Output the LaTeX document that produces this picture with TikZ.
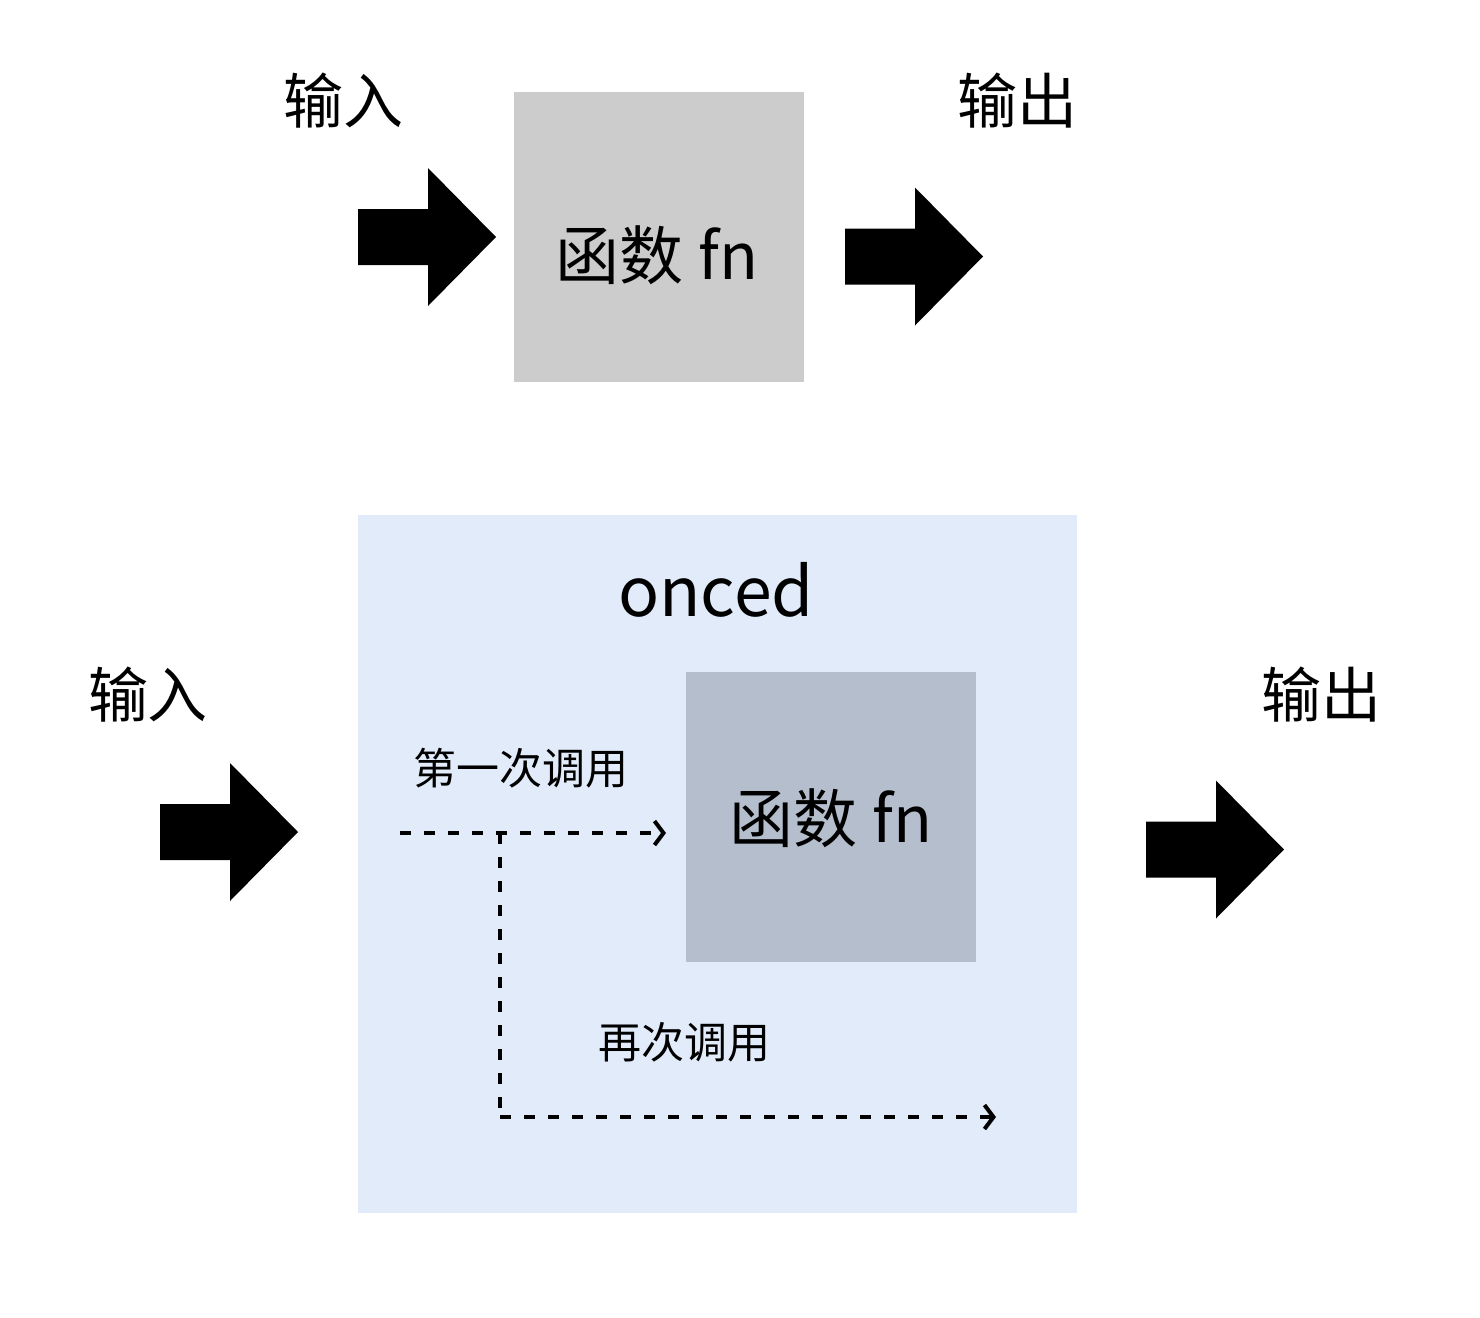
\documentclass[tikz,border=0pt]{standalone}
\usepackage{fontspec}
\setmainfont{Noto Sans CJK SC}
\usetikzlibrary{arrows.meta}
\definecolor{topgray}{HTML}{CCCCCC}
\definecolor{oncedbg}{HTML}{E1EBF9}
\definecolor{innergray}{HTML}{B5BECC}
\tikzset{
  bigtxt/.style={font=\fontsize{30}{34}\selectfont, inner sep=0pt},
  midtxt/.style={font=\fontsize{21.5}{25}\selectfont, inner sep=0pt},
  oncedtxt/.style={font=\fontsize{34}{38}\selectfont, inner sep=0pt},
  fnbox/.style={minimum width=145pt, minimum height=145pt, inner sep=0pt},
  fntxt/.style={font=\fontsize{32}{36}\selectfont, inner sep=0pt},
  flow/.style={dashed, dash pattern=on 5.5pt off 6.5pt, line width=2pt, -{Straight Barb[length=4.5pt,width=12pt,line width=2pt]}},
  flowplain/.style={dashed, dash pattern=on 5.5pt off 6.5pt, line width=2pt},
  blockarrow/.pic={\fill[black] (0,-28) -- (70,-28) -- (70,-69) -- (138,0) -- (70,69) -- (70,28) -- (0,28) -- cycle;}
}
\begin{document}
\begin{tikzpicture}[x=0.5pt,y=-0.5pt]
\useasboundingbox (0,0) rectangle (1480,1318);
\fill[white] (0,0) rectangle (1480,1318);
% top part
\node[bigtxt] (in1) at (343,101) {输入};
\node[bigtxt] (out1) at (1017,101) {输出};
\pic at (358,237) {blockarrow};
\node[fnbox, fill=topgray] (fn1) at (659,236.5) {};
\node[fntxt] (fn1text) at (657,255) {函数 fn};
\pic at (845,256.5) {blockarrow};
% bottom part
\node[fill=oncedbg, minimum width=359.5pt, minimum height=349pt, inner sep=0pt] (onced) at (717.5,864) {};
\node[oncedtxt] (oncedlabel) at (716,590) {onced};
\node[bigtxt] (in2) at (148,695) {输入};
\node[bigtxt] (out2) at (1321,695) {输出};
\pic at (160,832) {blockarrow};
\pic at (1146,849.5) {blockarrow};
\node[fnbox, fill=innergray] (fn2) at (831,816.5) {};
\node[fntxt] (fn2text) at (831,818) {函数 fn};
\node[midtxt] (first) at (521,768) {第一次调用};
\node[midtxt] (again) at (684,1042) {再次调用};
\coordinate (s1) at (400,833);
\coordinate (e1) at (666,833);
\coordinate (br) at (500,833);
\coordinate (corner) at (500,1117);
\coordinate (e2) at (996,1117);
\draw[flow] (s1) -- (e1);
\draw[flowplain] (br) -- (corner);
\draw[flow] (corner) -- (e2);
\end{tikzpicture}
\end{document}
